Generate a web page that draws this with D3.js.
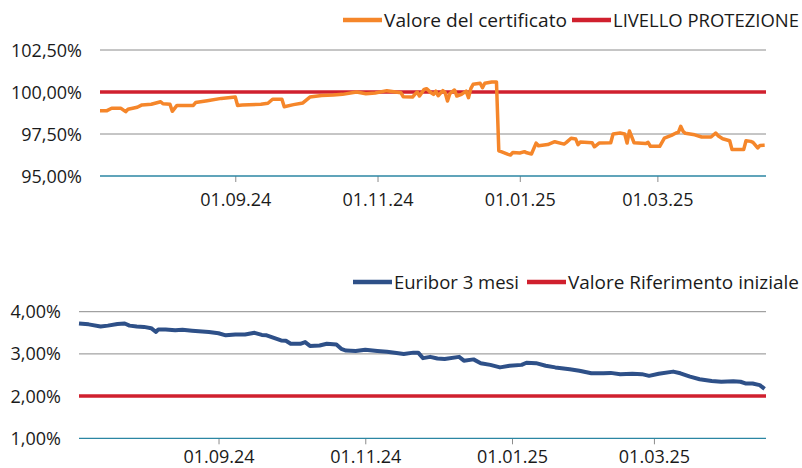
<!DOCTYPE html>
<html>
<head>
<meta charset="utf-8">
<script src="https://cdn.jsdelivr.net/npm/d3@7"></script>
<style>
  body { margin: 0; background: #fff; }
  text { font-family: "Open Sans", "Noto Sans", sans-serif; fill: #1a1a1a; }
</style>
</head>
<body>
<div id="chart"></div>
<script>
const width = 802;
const height = 468;

// top chart: certificate value vs protection level
const certDates = [
  "2024-07-05", "2024-07-08", "2024-07-10", "2024-07-14", "2024-07-16", "2024-07-17", "2024-07-21", "2024-07-23",
  "2024-07-27", "2024-07-31", "2024-08-01", "2024-08-04", "2024-08-05", "2024-08-07", "2024-08-14", "2024-08-15",
  "2024-08-20", "2024-08-26", "2024-09-01", "2024-09-02", "2024-09-04", "2024-09-12", "2024-09-15", "2024-09-17",
  "2024-09-21", "2024-09-22", "2024-09-26", "2024-09-30", "2024-10-03", "2024-10-08", "2024-10-13", "2024-10-17",
  "2024-10-23", "2024-10-27", "2024-10-31", "2024-11-05", "2024-11-11", "2024-11-12", "2024-11-16", "2024-11-17",
  "2024-11-18", "2024-11-19", "2024-11-21", "2024-11-22", "2024-11-24", "2024-11-25", "2024-11-26", "2024-11-27",
  "2024-11-29", "2024-11-30", "2024-12-01", "2024-12-02", "2024-12-04", "2024-12-05", "2024-12-07", "2024-12-09",
  "2024-12-10", "2024-12-11", "2024-12-12", "2024-12-15", "2024-12-16", "2024-12-17", "2024-12-20", "2024-12-22",
  "2024-12-23", "2024-12-24", "2024-12-27", "2024-12-28", "2024-12-29", "2025-01-01", "2025-01-03", "2025-01-04",
  "2025-01-06", "2025-01-08", "2025-01-09", "2025-01-13", "2025-01-16", "2025-01-20", "2025-01-21", "2025-01-23",
  "2025-01-25", "2025-01-26", "2025-01-27", "2025-02-01", "2025-02-02", "2025-02-04", "2025-02-09", "2025-02-10",
  "2025-02-13", "2025-02-15", "2025-02-16", "2025-02-17", "2025-02-19", "2025-02-24", "2025-02-25", "2025-02-26",
  "2025-03-02", "2025-03-04", "2025-03-07", "2025-03-09", "2025-03-10", "2025-03-11", "2025-03-12", "2025-03-13",
  "2025-03-17", "2025-03-20", "2025-03-24", "2025-03-26", "2025-03-27", "2025-03-29", "2025-04-01", "2025-04-02",
  "2025-04-07", "2025-04-08", "2025-04-10", "2025-04-11", "2025-04-13", "2025-04-14", "2025-04-16"
];
const certValues = [
  98.89, 98.89, 99.03, 99.03, 98.83, 98.97, 99.09, 99.23,
  99.27, 99.42, 99.30, 99.27, 98.85, 99.20, 99.20, 99.37,
  99.48, 99.62, 99.70, 99.20, 99.22, 99.27, 99.33, 99.57,
  99.57, 99.12, 99.25, 99.35, 99.70, 99.79, 99.82, 99.86,
  100.00, 99.90, 99.94, 100.08, 99.96, 99.72, 99.70, 99.86,
  100.00, 99.76, 100.16, 100.20, 99.95, 99.86, 100.05, 99.78,
  100.08, 99.96, 99.46, 99.90, 100.12, 99.76, 99.86, 100.05,
  99.66, 100.20, 100.46, 100.52, 100.26, 100.52, 100.60, 100.60,
  96.50, 96.45, 96.29, 96.25, 96.40, 96.37, 96.45, 96.38,
  96.31, 96.96, 96.80, 96.87, 97.04, 96.90, 97.00, 97.25,
  97.20, 96.86, 97.03, 96.98, 96.74, 96.96, 96.98, 97.50,
  97.56, 97.50, 96.96, 97.68, 96.98, 96.93, 97.00, 96.77,
  96.77, 97.26, 97.42, 97.56, 97.60, 97.96, 97.66, 97.54,
  97.45, 97.32, 97.32, 97.56, 97.40, 97.22, 97.10, 96.57,
  96.57, 97.10, 97.06, 97.00, 96.67, 96.82, 96.83
];
const protectionLevel = 100;
const certTicks = [95, 97.5, 100, 102.5];

// bottom chart: Euribor 3M vs initial reference value
const euriborDates = [
  "2024-07-05", "2024-07-09", "2024-07-14", "2024-07-17", "2024-07-21", "2024-07-24", "2024-07-26", "2024-07-29",
  "2024-08-01", "2024-08-04", "2024-08-06", "2024-08-07", "2024-08-10", "2024-08-14", "2024-08-17", "2024-08-21",
  "2024-08-28", "2024-09-01", "2024-09-04", "2024-09-08", "2024-09-12", "2024-09-16", "2024-09-19", "2024-09-21",
  "2024-09-24", "2024-09-27", "2024-09-29", "2024-10-01", "2024-10-05", "2024-10-07", "2024-10-09", "2024-10-13",
  "2024-10-16", "2024-10-20", "2024-10-22", "2024-10-24", "2024-10-28", "2024-11-01", "2024-11-06", "2024-11-10",
  "2024-11-14", "2024-11-17", "2024-11-21", "2024-11-23", "2024-11-25", "2024-11-28", "2024-12-01", "2024-12-04",
  "2024-12-10", "2024-12-12", "2024-12-16", "2024-12-19", "2024-12-23", "2024-12-27", "2024-12-31", "2025-01-05",
  "2025-01-07", "2025-01-11", "2025-01-15", "2025-01-19", "2025-01-25", "2025-01-29", "2025-02-03", "2025-02-08",
  "2025-02-11", "2025-02-15", "2025-02-20", "2025-02-24", "2025-02-27", "2025-03-03", "2025-03-09", "2025-03-12",
  "2025-03-16", "2025-03-20", "2025-03-25", "2025-03-29", "2025-04-03", "2025-04-06", "2025-04-08", "2025-04-11",
  "2025-04-14", "2025-04-16"
];
const euriborValues = [
  3.72, 3.70, 3.65, 3.67, 3.71, 3.72, 3.67, 3.65,
  3.64, 3.61, 3.52, 3.58, 3.58, 3.56, 3.57, 3.55,
  3.52, 3.49, 3.44, 3.46, 3.46, 3.50, 3.45, 3.44,
  3.38, 3.32, 3.31, 3.24, 3.24, 3.28, 3.19, 3.20,
  3.24, 3.22, 3.12, 3.08, 3.07, 3.10, 3.07, 3.05,
  3.02, 3.00, 3.03, 3.03, 2.90, 2.93, 2.89, 2.88,
  2.93, 2.84, 2.87, 2.78, 2.74, 2.68, 2.72, 2.74,
  2.79, 2.78, 2.72, 2.68, 2.635, 2.60, 2.54, 2.54,
  2.55, 2.52, 2.53, 2.52, 2.48, 2.53, 2.58, 2.54,
  2.46, 2.40, 2.36, 2.34, 2.35, 2.34, 2.30, 2.30,
  2.26, 2.17
];
const referenceValue = 2.0;
const euriborTicks = [1, 2, 3, 4];

const dateTicks = ["2024-09-01", "2024-11-01", "2025-01-01", "2025-03-01"];
const dateDomain = ["2024-07-05", "2025-04-17"];

const parse = d3.timeParse("%Y-%m-%d");
const fmtDate = d3.timeFormat("%d.%m.%y");
const fmtPct = (d) => d3.format(".2f")(d).replace(".", ",") + "%";

const svg = d3
  .select("#chart")
  .append("svg")
  .attr("width", width)
  .attr("height", height);

function drawPanel(cfg) {
  const x = d3.scaleTime().domain(dateDomain.map(parse)).range([cfg.left, 767]);
  const y = d3.scaleLinear().domain(cfg.yDomain).range([cfg.bottom, cfg.top]);
  const g = svg.append("g");

  // gridlines
  g.selectAll(".grid")
    .data(cfg.yTicks.slice(1))
    .join("line")
    .attr("x1", cfg.left)
    .attr("x2", 766)
    .attr("y1", (d) => y(d))
    .attr("y2", (d) => y(d))
    .attr("stroke", "#8c8c8c")
    .attr("stroke-width", 1);

  // y labels
  g.selectAll(".ylab")
    .data(cfg.yTicks)
    .join("text")
    .attr("x", cfg.left - 18)
    .attr("y", (d) => y(d) + 6.5)
    .attr("text-anchor", "end")
    .style("font-size", "18px")
    .text(fmtPct);

  // x axis
  const xAxis = d3
    .axisBottom(x)
    .tickValues(dateTicks.map(parse))
    .tickFormat(fmtDate)
    .tickSize(6)
    .tickPadding(cfg.tickPad);
  const ax = g.append("g").attr("transform", `translate(0,${cfg.bottom})`).call(xAxis);
  ax.select(".domain").remove();
  ax.selectAll(".tick line").attr("stroke", "#8c8c8c");
  ax.selectAll(".tick text")
    .style("font-size", "18px")
    .attr("fill", "#1a1a1a")
    .style("font-family", '"Open Sans", "Noto Sans", sans-serif');
  g.append("line")
    .attr("x1", cfg.left)
    .attr("x2", 766)
    .attr("y1", y(cfg.yDomain[0]))
    .attr("y2", y(cfg.yDomain[0]))
    .attr("stroke", "#2b86a3")
    .attr("stroke-width", 1.3);

  // reference (constant) line
  g.append("line")
    .attr("x1", cfg.left)
    .attr("x2", 766)
    .attr("y1", y(cfg.level))
    .attr("y2", y(cfg.level))
    .attr("stroke", "#d0202e")
    .attr("stroke-width", 3.5);

  // series
  const pts = cfg.dates.map((d, i) => [parse(d), cfg.values[i]]);
  const line = d3
    .line()
    .x((d) => x(d[0]))
    .y((d) => y(d[1]));
  g.append("path")
    .datum(pts)
    .attr("d", line)
    .attr("fill", "none")
    .attr("stroke", cfg.color)
    .attr("stroke-width", cfg.lineWidth)
    .attr("stroke-linejoin", "round");

  // legend
  const leg = g
    .selectAll(".legend")
    .data(cfg.legend)
    .join("g");
  leg
    .append("line")
    .attr("x1", (d) => d.x)
    .attr("x2", (d) => d.x + 39)
    .attr("y1", cfg.legendY)
    .attr("y2", cfg.legendY)
    .attr("stroke", (d) => d.color)
    .attr("stroke-width", 4.5);
  leg
    .append("text")
    .attr("x", (d) => d.x + 41)
    .attr("y", cfg.legendY + 6.5)
    .attr("textLength", (d) => d.w)
    .attr("lengthAdjust", "spacingAndGlyphs")
    .style("font-size", "18px")
    .text((d) => d.label);
}

drawPanel({
  left: 100,
  top: 50,
  bottom: 176,
  yDomain: [95, 102.5],
  yTicks: certTicks,
  level: protectionLevel,
  dates: certDates,
  values: certValues,
  color: "#f5862a",
  lineWidth: 3.5,
  tickPad: 11,
  legendY: 20,
  legend: [
    { label: "Valore del certificato", color: "#f5862a", x: 343, w: 183 },
    { label: "LIVELLO PROTEZIONE", color: "#d0202e", x: 572, w: 186 }
  ]
});

drawPanel({
  left: 79,
  top: 311.7,
  bottom: 438.3,
  yDomain: [1, 4],
  yTicks: euriborTicks,
  level: referenceValue,
  dates: euriborDates,
  values: euriborValues,
  color: "#2e5088",
  lineWidth: 4,
  tickPad: 6,
  legendY: 282,
  legend: [
    { label: "Euribor 3 mesi", color: "#2e5088", x: 353, w: 125 },
    { label: "Valore Riferimento iniziale", color: "#d0202e", x: 527, w: 231 }
  ]
});
</script>
</body>
</html>
